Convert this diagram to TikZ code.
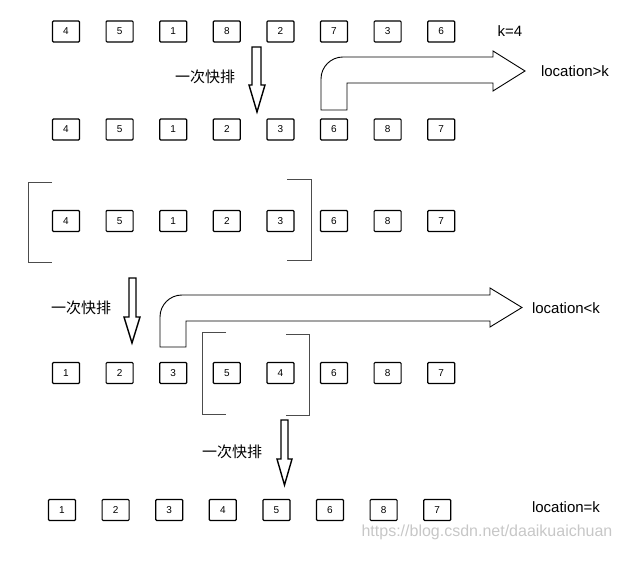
\documentclass[tikz,border=0pt]{standalone}
\usepackage{fontspec}
\setmainfont{Liberation Sans}
\newfontfamily\cjk{Noto Sans CJK SC}
\begin{document}
\begin{tikzpicture}[
    x=1pt, y=-1pt,
    cell/.style={
        draw,
        line width=1.2pt,
        rounded corners=1pt,
        minimum width=27pt,
        minimum height=21pt,
        inner sep=0pt,
        font=\fontsize{10}{10}\selectfont
    },
    lbl/.style={
        inner sep=0pt,
        font=\fontsize{15}{18}\selectfont
    },
    bigarrow/.style={
        draw,
        line width=0.9pt,
        fill=white
    },
    downarrow/.style={
        bigarrow,
        line width=1.4pt
    },
    bracket/.style={
        draw=black!70,
        line width=0.9pt
    }
]
\useasboundingbox (0,0) rectangle (622,561);

% Rows of numbers
\foreach \v [count=\i] in {4,5,1,8,2,7,3,6}
    \node[cell] (a\i) at ({66+53.6*(\i-1)},31.5) {\v};
\foreach \v [count=\i] in {4,5,1,2,3,6,8,7}
    \node[cell] (b\i) at ({66+53.6*(\i-1)},129.5) {\v};
\foreach \v [count=\i] in {4,5,1,2,3,6,8,7}
    \node[cell] (c\i) at ({66+53.6*(\i-1)},221) {\v};
\foreach \v [count=\i] in {1,2,3,5,4,6,8,7}
    \node[cell] (d\i) at ({66+53.6*(\i-1)},373) {\v};
\foreach \v [count=\i] in {1,2,3,4,5,6,8,7}
    \node[cell] (e\i) at ({62+53.6*(\i-1)},510) {\v};

% Down arrows
\draw[downarrow] (252,47) -- (261,47) -- (261,85) -- (265,85) -- (257,112)
    -- (249,85) -- (252,85) -- cycle;
\draw[downarrow] (129,278) -- (136,278) -- (136,317) -- (140,317) -- (132,343)
    -- (124,317) -- (129,317) -- cycle;
\draw[downarrow] (281,420) -- (288,420) -- (288,459) -- (292,459) -- (284.5,485)
    -- (277,459) -- (281,459) -- cycle;

% Bent arrows
\draw[bigarrow] (321,110) -- (321,79) .. controls (321,66.8) and (330.8,57) .. (343,57)
    -- (493,57) -- (493,51) -- (525,71) -- (493,91) -- (493,83) -- (347,83)
    -- (347,110) -- cycle;
\draw[bigarrow] (160,347) -- (160,317) .. controls (160,304.8) and (169.8,295) .. (182,295)
    -- (490,295) -- (490,288) -- (522,307.5) -- (490,327) -- (490,321) -- (186,321)
    -- (186,347) -- cycle;

% Brackets
\draw[bracket] (52,182) -- (28,182) -- (28,262) -- (52,262);
\draw[bracket] (287,179) -- (311,179) -- (311,260) -- (287,260);
\draw[bracket] (226,332) -- (202,332) -- (202,414) -- (226,414);
\draw[bracket] (286,334) -- (309,334) -- (309,415) -- (286,415);

% Labels
\node[lbl] (k) at (510,31) {k=4};
\node[lbl] (gt) at (575,71) {location>k};
\node[lbl] (lt) at (566,308) {location<k};
\node[lbl] (eq) at (566,507) {location=k};
\node[lbl, font=\cjk\fontsize{15}{18}\selectfont] (q1) at (205,77) {一次快排};
\node[lbl, font=\cjk\fontsize{15}{18}\selectfont] (q2) at (81,308) {一次快排};
\node[lbl, font=\cjk\fontsize{15}{18}\selectfont] (q3) at (232,452) {一次快排};
\node[lbl, font=\fontsize{16}{18}\selectfont, text=black!22] (url) at (487,532)
    {https://blog.csdn.net/daaikuaichuan};

\end{tikzpicture}
\end{document}
